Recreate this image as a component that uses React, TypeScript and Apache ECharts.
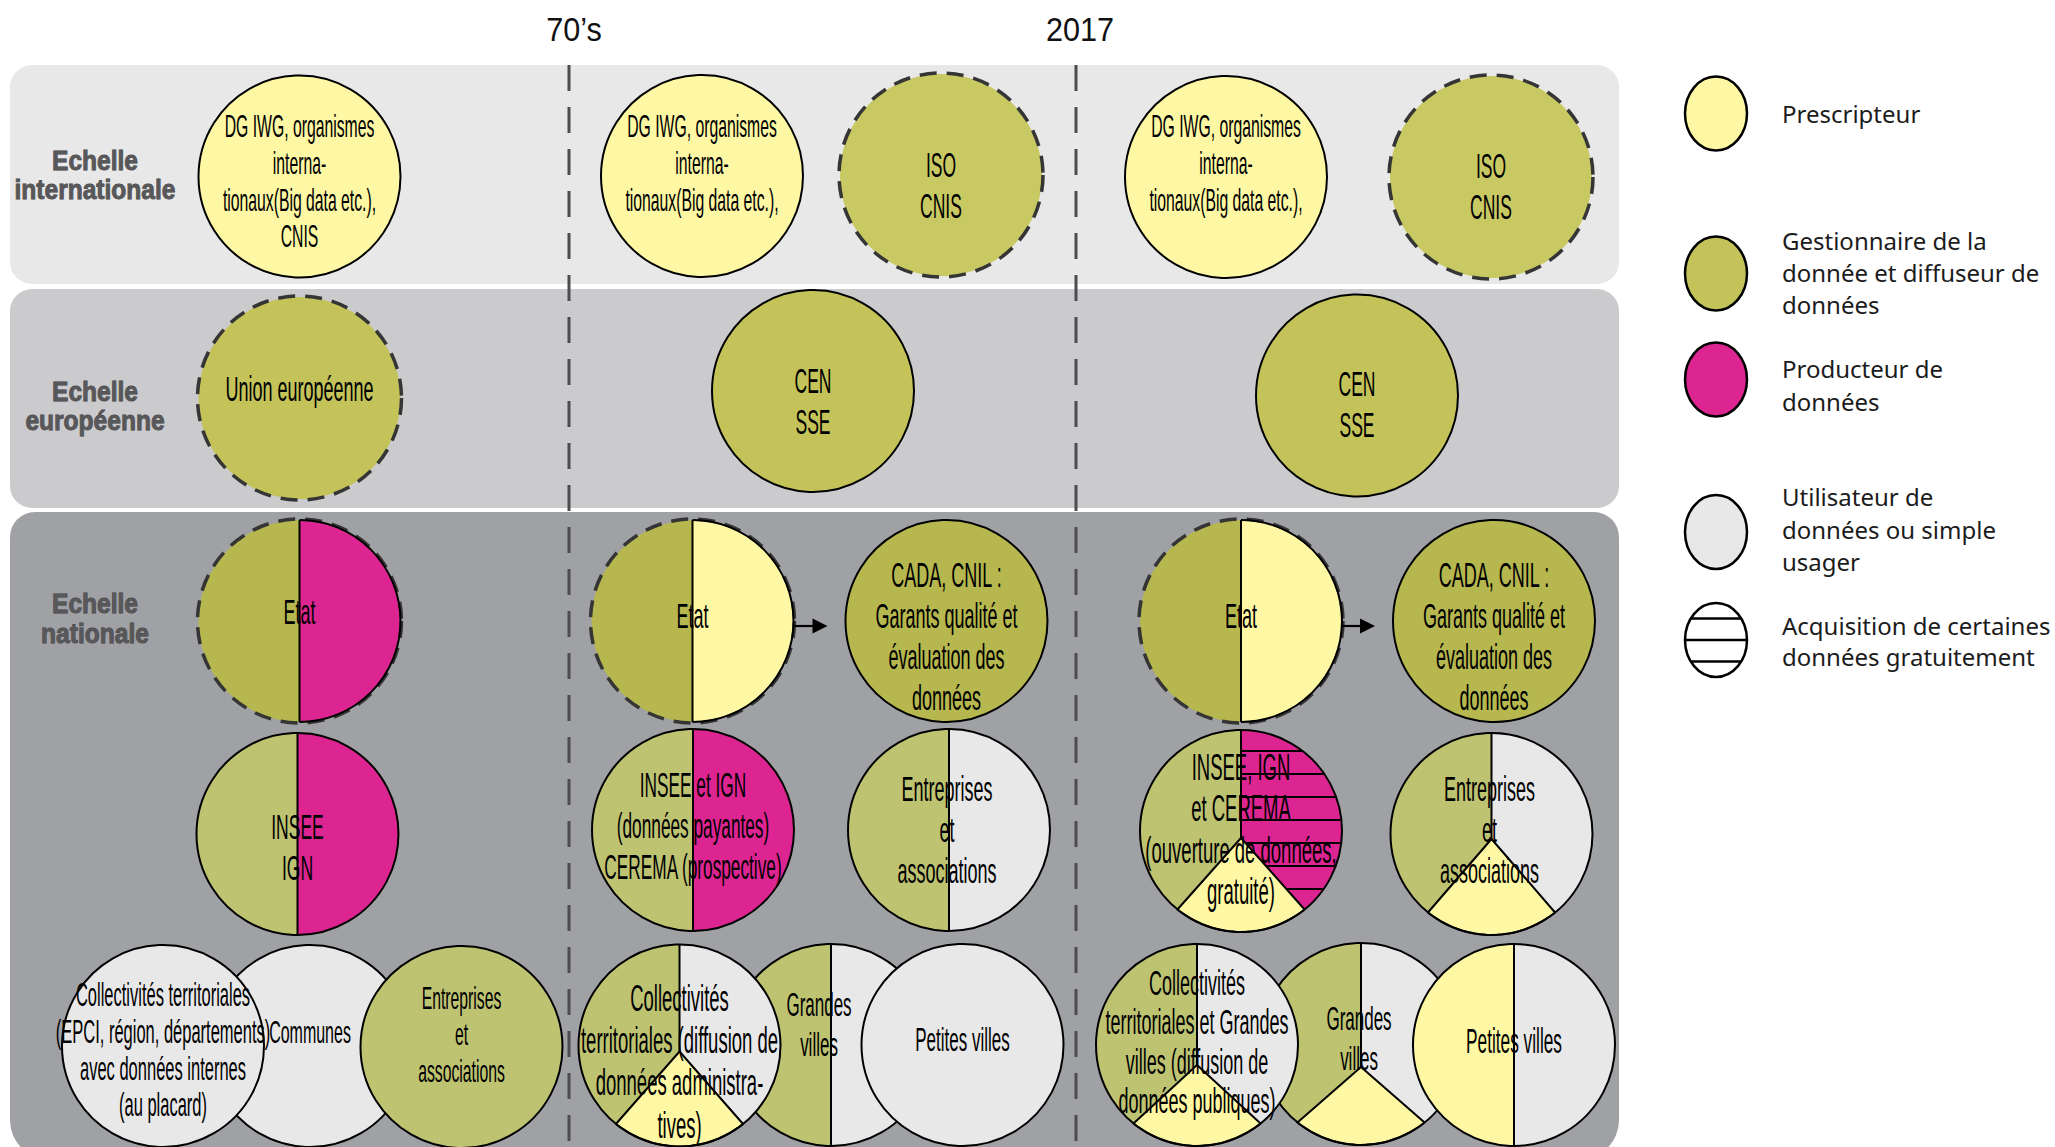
import React, { useEffect, useRef } from "react";
import * as echarts from "echarts";

const W = 2055;
const H = 1147;

// ---------- DATA ----------
const periods = ["70’s", "2017"];
const scaleNames = [
  ["Echelle", "internationale"],
  ["Echelle", "européenne"],
  ["Echelle", "nationale"],
];
const roleLegend = [
  ["Prescripteur"],
  ["Gestionnaire de la", "donnée et diffuseur de", "données"],
  ["Producteur de", "données"],
  ["Utilisateur de", "données ou simple", "usager"],
  ["Acquisition de certaines", "données gratuitement"],
];
const roleKeys = ["P", "G", "D", "U", "H"];

const actorLabels = [
  ["DG IWG, organismes", "interna-", "tionaux(Big data etc.),", "CNIS"],
  ["Union européenne"],
  ["Etat"],
  ["INSEE", "IGN"],
  ["Communes"],
  ["Collectivités territoriales", "(EPCI, région, départements)", "avec données internes", "(au placard)"],
  ["Entreprises", "et", "associations"],
  ["DG IWG, organismes", "interna-", "tionaux(Big data etc.),"],
  ["ISO", "CNIS"],
  ["CEN", "SSE"],
  ["Etat"],
  ["CADA, CNIL :", "Garants qualité et", "évaluation des", "données"],
  ["INSEE et IGN", "(données payantes)", "CEREMA (prospective)"],
  ["Entreprises", "et", "associations"],
  ["Grandes", "villes"],
  ["Collectivités", "territoriales (diffusion de", "données administra-", "tives)"],
  ["Petites villes"],
  ["DG IWG, organismes", "interna-", "tionaux(Big data etc.),"],
  ["ISO", "CNIS"],
  ["CEN", "SSE"],
  ["Etat"],
  ["CADA, CNIL :", "Garants qualité et", "évaluation des", "données"],
  ["INSEE, IGN", "et CEREMA", "(ouverture de données,", "gratuité)"],
  ["Entreprises", "et", "associations"],
  ["Grandes", "villes"],
  ["Collectivités", "territoriales et Grandes", "villes (diffusion de", "données publiques)"],
  ["Petites villes"],
];
// roles: left half, right half, bottom wedge ("" = none)
const actorRoles = [
  ["P", "P", ""], ["G", "G", ""], ["G", "D", ""], ["G", "D", ""], ["U", "U", ""], ["U", "U", ""], ["G", "G", ""],
  ["P", "P", ""], ["G", "G", ""], ["G", "G", ""], ["G", "P", ""], ["G", "G", ""], ["G", "D", ""], ["G", "U", ""],
  ["G", "U", ""], ["G", "U", "P"], ["U", "U", ""],
  ["P", "P", ""], ["G", "G", ""], ["G", "G", ""], ["G", "P", ""], ["G", "G", ""], ["G", "D", "P"], ["G", "U", "P"],
  ["G", "U", "P"], ["G", "U", "P"], ["P", "U", ""],
];
const actorOutline = [
  "solid", "dashed", "dashedSplit", "solid", "solid", "solid", "solid",
  "solid", "dashed", "solid", "dashedSplit", "solid", "solid", "solid", "solid", "solid", "solid",
  "solid", "dashed", "solid", "dashedSplit", "solid", "solid", "solid", "solid", "solid", "solid",
];
const actorFreeData = actorLabels.map((_, i) => i === 22);
const links = [[10, 11], [20, 21]];

// ---------- LAYOUT / STYLE ----------
const actorPos = [
  [299.5, 176.5, 101], [299.5, 398, 101], [299.5, 621, 101], [297.5, 834, 101], [310, 1046, 101], [163, 1046, 101], [461.5, 1047, 101],
  [702, 176, 101], [941, 175, 101], [813, 391, 101], [692.5, 621, 101], [946.5, 621, 101], [693, 830, 101], [949, 830, 101],
  [831, 1045, 101], [679.5, 1045.5, 101], [962.5, 1045, 101],
  [1226, 177, 101], [1491, 177, 101], [1357, 395.5, 101], [1241, 621, 101], [1494, 621, 101], [1241, 831, 101], [1491.5, 834, 101],
  [1361, 1044, 101], [1197, 1045, 101], [1514, 1045, 101],
];
// fontSize, first line dy, line height, olive shade, wedge apex dy, text dx
const actorStyle = [
  [31.5, -50.5, 36.7, 0, 0, 0], [36, -10, 40, 1, 0, 0], [36, -10, 40, 2, 0, 0], [35, -7, 40.6, 3, 0, 0], [32, -14.6, 37, 3, 0, 0], [33, -51, 36.7, 3, 0, 0], [31.5, -49.6, 36.7, 3, 0, 0],
  [31.5, -50, 36.7, 0, 0, 0], [35, -10, 40.6, 0, 0, 0], [35, -9.6, 40.6, 1, 0, 0], [36, -6, 40, 2, 0, 0], [36, -47, 41, 2, 0, 0], [34.5, -45, 41, 3, 0, 0], [36, -42, 41, 3, 0, -2],
  [34, -40, 40, 3, 0, -12], [37, -47.5, 42.3, 3, 6, 0], [34, -5, 40, 3, 0, 0],
  [31.5, -51, 36.7, 0, 0, 0], [35, -10.6, 40.6, 0, 0, 0], [35, -11.5, 40.6, 1, 0, 0], [36, -6, 40, 2, 0, 0], [36, -47, 41, 2, 0, 0], [37, -64, 41.5, 3, 7, 0], [36, -46, 41, 3, 5, -2],
  [34, -25, 40, 3, 23, -2], [36, -63, 39.5, 3, 20, 0], [34.5, -4, 40, 3, 0, 0],
];

const YELLOW = "#fef7a3";
const MAGENTA = "#dc2590";
const GREY = "#e8e8e8";
const OLIVES = ["#c9c963", "#c3c35a", "#b6b74e", "#bec372"];
const DASH_COLOR = "#353535";
const CIRCLE_FONT = '"Liberation Sans", Arial, sans-serif';
const TEXT_SCALE = 0.5;
const WEDGE_HALF = (39 * Math.PI) / 180;
const HATCH_OFFSETS = [-80, -57, -34, -11, 12, 35, 58];

const bandBoxes = [
  [10, 65, 1609, 219, [22, 22, 22, 22]],
  [10, 289, 1609, 219, [22, 22, 22, 22]],
  [10, 512, 1609, 648, [25, 25, 40, 40]],
];
const bandColors = ["#e8e8e8", "#cbcbcd", "#a0a1a5"];
const scaleLabelY = [[161, 190], [392, 421], [604, 634]];
const separatorX = [569, 1076];
const periodTitleX = [574, 1080];
const legendCy = [113.5, 273.5, 379.5, 532, 640];
const legendTextY = [[113], [240, 272.6, 304], [368.3, 401], [496.7, 529.5, 561], [625, 656.6]];

function roleColor(role: string, shade: number) {
  if (role === "P") return YELLOW;
  if (role === "G") return OLIVES[shade];
  if (role === "D") return MAGENTA;
  if (role === "U") return GREY;
  return "#ffffff";
}

function txt(text: string, x: number, y: number, o: any) {
  const align = o.align || "center";
  const style: any = {
    text,
    fill: o.fill || "#000",
    fontSize: o.fontSize,
    fontFamily: o.fontFamily,
    fontWeight: o.fontWeight || "normal",
    align,
    verticalAlign: "middle",
    textAlign: align,
    textVerticalAlign: "middle",
  };
  if (o.stroke) {
    style.stroke = o.stroke;
    style.lineWidth = o.lineWidth;
  }
  return {
    type: "text",
    x,
    y,
    scaleX: o.scaleX ?? 1,
    z: o.z ?? 5,
    style,
  };
}

function buildGraphics() {
  const g: any[] = [];
  bandBoxes.forEach((b: any, i) => {
    g.push({
      type: "rect",
      z: 0,
      shape: { x: b[0], y: b[1], width: b[2], height: b[3], r: b[4] },
      style: { fill: bandColors[i] },
    });
  });
  separatorX.forEach((x) => {
    g.push({
      type: "line",
      z: 1,
      shape: { x1: x, y1: 65, x2: x, y2: H },
      style: { stroke: "#4d4d4f", lineWidth: 3, lineDash: [26, 16] },
    });
  });
  periods.forEach((p, i) => {
    g.push(txt(p, periodTitleX[i], 29, { fontSize: 34, fontFamily: CIRCLE_FONT, scaleX: 0.9, fill: "#111" }));
  });
  scaleNames.forEach((lines, i) => {
    lines.forEach((l, k) => {
      g.push(
        txt(l, 95, scaleLabelY[i][k], {
          fontSize: 27,
          scaleX: 0.91,
          fontFamily: CIRCLE_FONT,
          fontWeight: "bold",
          fill: "#58585a",
          stroke: "#3a3a3c",
          lineWidth: 0.8,
        })
      );
    });
  });
  // legend
  const lx = 1716;
  const rx = 31;
  const ry = 37;
  roleKeys.forEach((k, i) => {
    const cy = legendCy[i];
    g.push({
      type: "ellipse",
      z: 2,
      shape: { cx: lx, cy, rx, ry },
      style: { fill: roleColor(k, 1), stroke: "#000", lineWidth: 2.5 },
    });
    if (k === "H") {
      [-21.5, 0, 21.5].forEach((d) => {
        const half = d === 0 ? rx + 1 : rx * Math.sqrt(1 - (d / ry) * (d / ry));
        g.push({
          type: "line",
          z: 3,
          shape: { x1: lx - half, y1: cy + d, x2: lx + half, y2: cy + d },
          style: { stroke: "#000", lineWidth: 2.5 },
        });
      });
    }
    roleLegend[i].forEach((l, j) => {
      g.push(
        txt(l, 1782, legendTextY[i][j], {
          align: "left",
          fontSize: 24,
          fontFamily: '"Noto Sans", sans-serif',
          fill: "#1c1c1c",
        })
      );
    });
  });
  return g;
}

function renderActor(params: any, api: any) {
  const i = api.value(2) as number;
  const pt = api.coord([api.value(0), api.value(1)]);
  const cx = pt[0];
  const cy = pt[1];
  const r = api.size([actorPos[i][2], 0])[0];
  const [fs, firstDy, lh, shade, apexDy, tdx] = actorStyle[i];
  const [L, R, Wd] = actorRoles[i];
  const base = i * 40;
  const kids: any[] = [];
  let z = base;
  if (L === R) {
    kids.push({ type: "circle", z2: z++, shape: { cx, cy, r }, style: { fill: roleColor(L, shade) } });
  } else {
    kids.push({
      type: "sector",
      z2: z++,
      shape: { cx, cy, r0: 0, r, startAngle: Math.PI / 2, endAngle: Math.PI * 1.5, clockwise: true },
      style: { fill: roleColor(L, shade) },
    });
    kids.push({
      type: "sector",
      z2: z++,
      shape: { cx, cy, r0: 0, r, startAngle: -Math.PI / 2, endAngle: Math.PI / 2, clockwise: true },
      style: { fill: roleColor(R, shade) },
    });
  }
  if (actorFreeData[i]) {
    HATCH_OFFSETS.forEach((d) => {
      const half = Math.sqrt(r * r - d * d);
      kids.push({
        type: "line",
        z2: z++,
        shape: { x1: cx, y1: cy + d, x2: cx + half - 1, y2: cy + d },
        style: { stroke: "#000", lineWidth: 2 },
      });
    });
  }
  const apexY = cy + apexDy;
  if (L !== R) {
    kids.push({
      type: "line",
      z2: z++,
      shape: { x1: cx, y1: cy - r, x2: cx, y2: Wd ? apexY : cy + r },
      style: { stroke: "#000", lineWidth: 2 },
    });
  }
  if (Wd) {
    const pts: number[][] = [[cx, apexY]];
    const n = 24;
    for (let k = 0; k <= n; k++) {
      const a = Math.PI / 2 - WEDGE_HALF + (2 * WEDGE_HALF * k) / n;
      pts.push([cx + r * Math.cos(a), cy + r * Math.sin(a)]);
    }
    kids.push({
      type: "polygon",
      z2: z++,
      shape: { points: pts },
      style: { fill: roleColor(Wd, shade), stroke: "#000", lineWidth: 2, lineJoin: "round" },
    });
  }
  const outline = actorOutline[i];
  if (outline === "solid") {
    kids.push({ type: "circle", z2: z++, shape: { cx, cy, r }, style: { fill: "none", stroke: "#000", lineWidth: 2 } });
  } else {
    kids.push({
      type: "circle",
      z2: z++,
      shape: { cx, cy, r: r + 1 },
      style: { fill: "none", stroke: DASH_COLOR, lineWidth: 3.5, lineDash: [17, 10] },
    });
    if (outline === "dashedSplit") {
      kids.push({
        type: "arc",
        z2: z++,
        shape: { cx, cy, r, startAngle: -Math.PI / 2, endAngle: Math.PI / 2, clockwise: true },
        style: { fill: "none", stroke: "#000", lineWidth: 2 },
      });
    }
  }
  actorLabels[i].forEach((t, k) => {
    kids.push({
      type: "text",
      z2: base + 30,
      x: cx + tdx,
      y: cy + firstDy + k * lh,
      scaleX: TEXT_SCALE,
      style: {
        text: t,
        fill: "#000",
        fontSize: fs,
        fontFamily: CIRCLE_FONT,
        align: "center",
        verticalAlign: "middle",
        textAlign: "center",
        textVerticalAlign: "middle",
      },
    });
  });
  return { type: "group", children: kids };
}

function renderLink(params: any, api: any) {
  const a = api.value(2) as number;
  const b = api.value(3) as number;
  const pa = api.coord([actorPos[a][0], actorPos[a][1]]);
  const pb = api.coord([actorPos[b][0], actorPos[b][1]]);
  const ra = api.size([actorPos[a][2], 0])[0];
  const rb = api.size([actorPos[b][2], 0])[0];
  const y = pa[1] + 5;
  const x1 = pa[0] + ra;
  const tip = pb[0] - rb - 18;
  return {
    type: "group",
    children: [
      { type: "line", shape: { x1, y1: y, x2: tip - 10, y2: y }, style: { stroke: "#000", lineWidth: 2.2 } },
      {
        type: "polygon",
        shape: { points: [[tip, y], [tip - 15, y - 7.5], [tip - 15, y + 7.5]] },
        style: { fill: "#000" },
      },
    ],
  };
}

function buildOption(): any {
  return {
    animation: false,
    backgroundColor: "#ffffff",
    grid: { left: 0, right: 0, top: 0, bottom: 0 },
    xAxis: { type: "value", min: 0, max: W, show: false },
    yAxis: { type: "value", min: 0, max: H, inverse: true, show: false },
    graphic: buildGraphics(),
    series: [
      {
        type: "custom",
        name: "acteurs",
        coordinateSystem: "cartesian2d",
        encode: { x: 0, y: 1 },
        clip: false,
        z: 3,
        data: actorPos.map((p, i) => [p[0], p[1], i]),
        renderItem: renderActor,
      },
      {
        type: "custom",
        name: "liens",
        coordinateSystem: "cartesian2d",
        encode: { x: 0, y: 1 },
        clip: false,
        z: 4,
        data: links.map(([a, b]) => [actorPos[a][0], actorPos[a][1], a, b]),
        renderItem: renderLink,
      },
    ],
  };
}

export default function App() {
  const ref = useRef<HTMLDivElement>(null);
  useEffect(() => {
    document.body.style.margin = "0";
    document.body.style.overflow = "hidden";
    const chart = echarts.init(ref.current as HTMLDivElement, undefined, { renderer: "svg" });
    chart.setOption(buildOption());
    return () => chart.dispose();
  }, []);
  return <div ref={ref} style={{ width: W, height: H, background: "#fff" }} />;
}
